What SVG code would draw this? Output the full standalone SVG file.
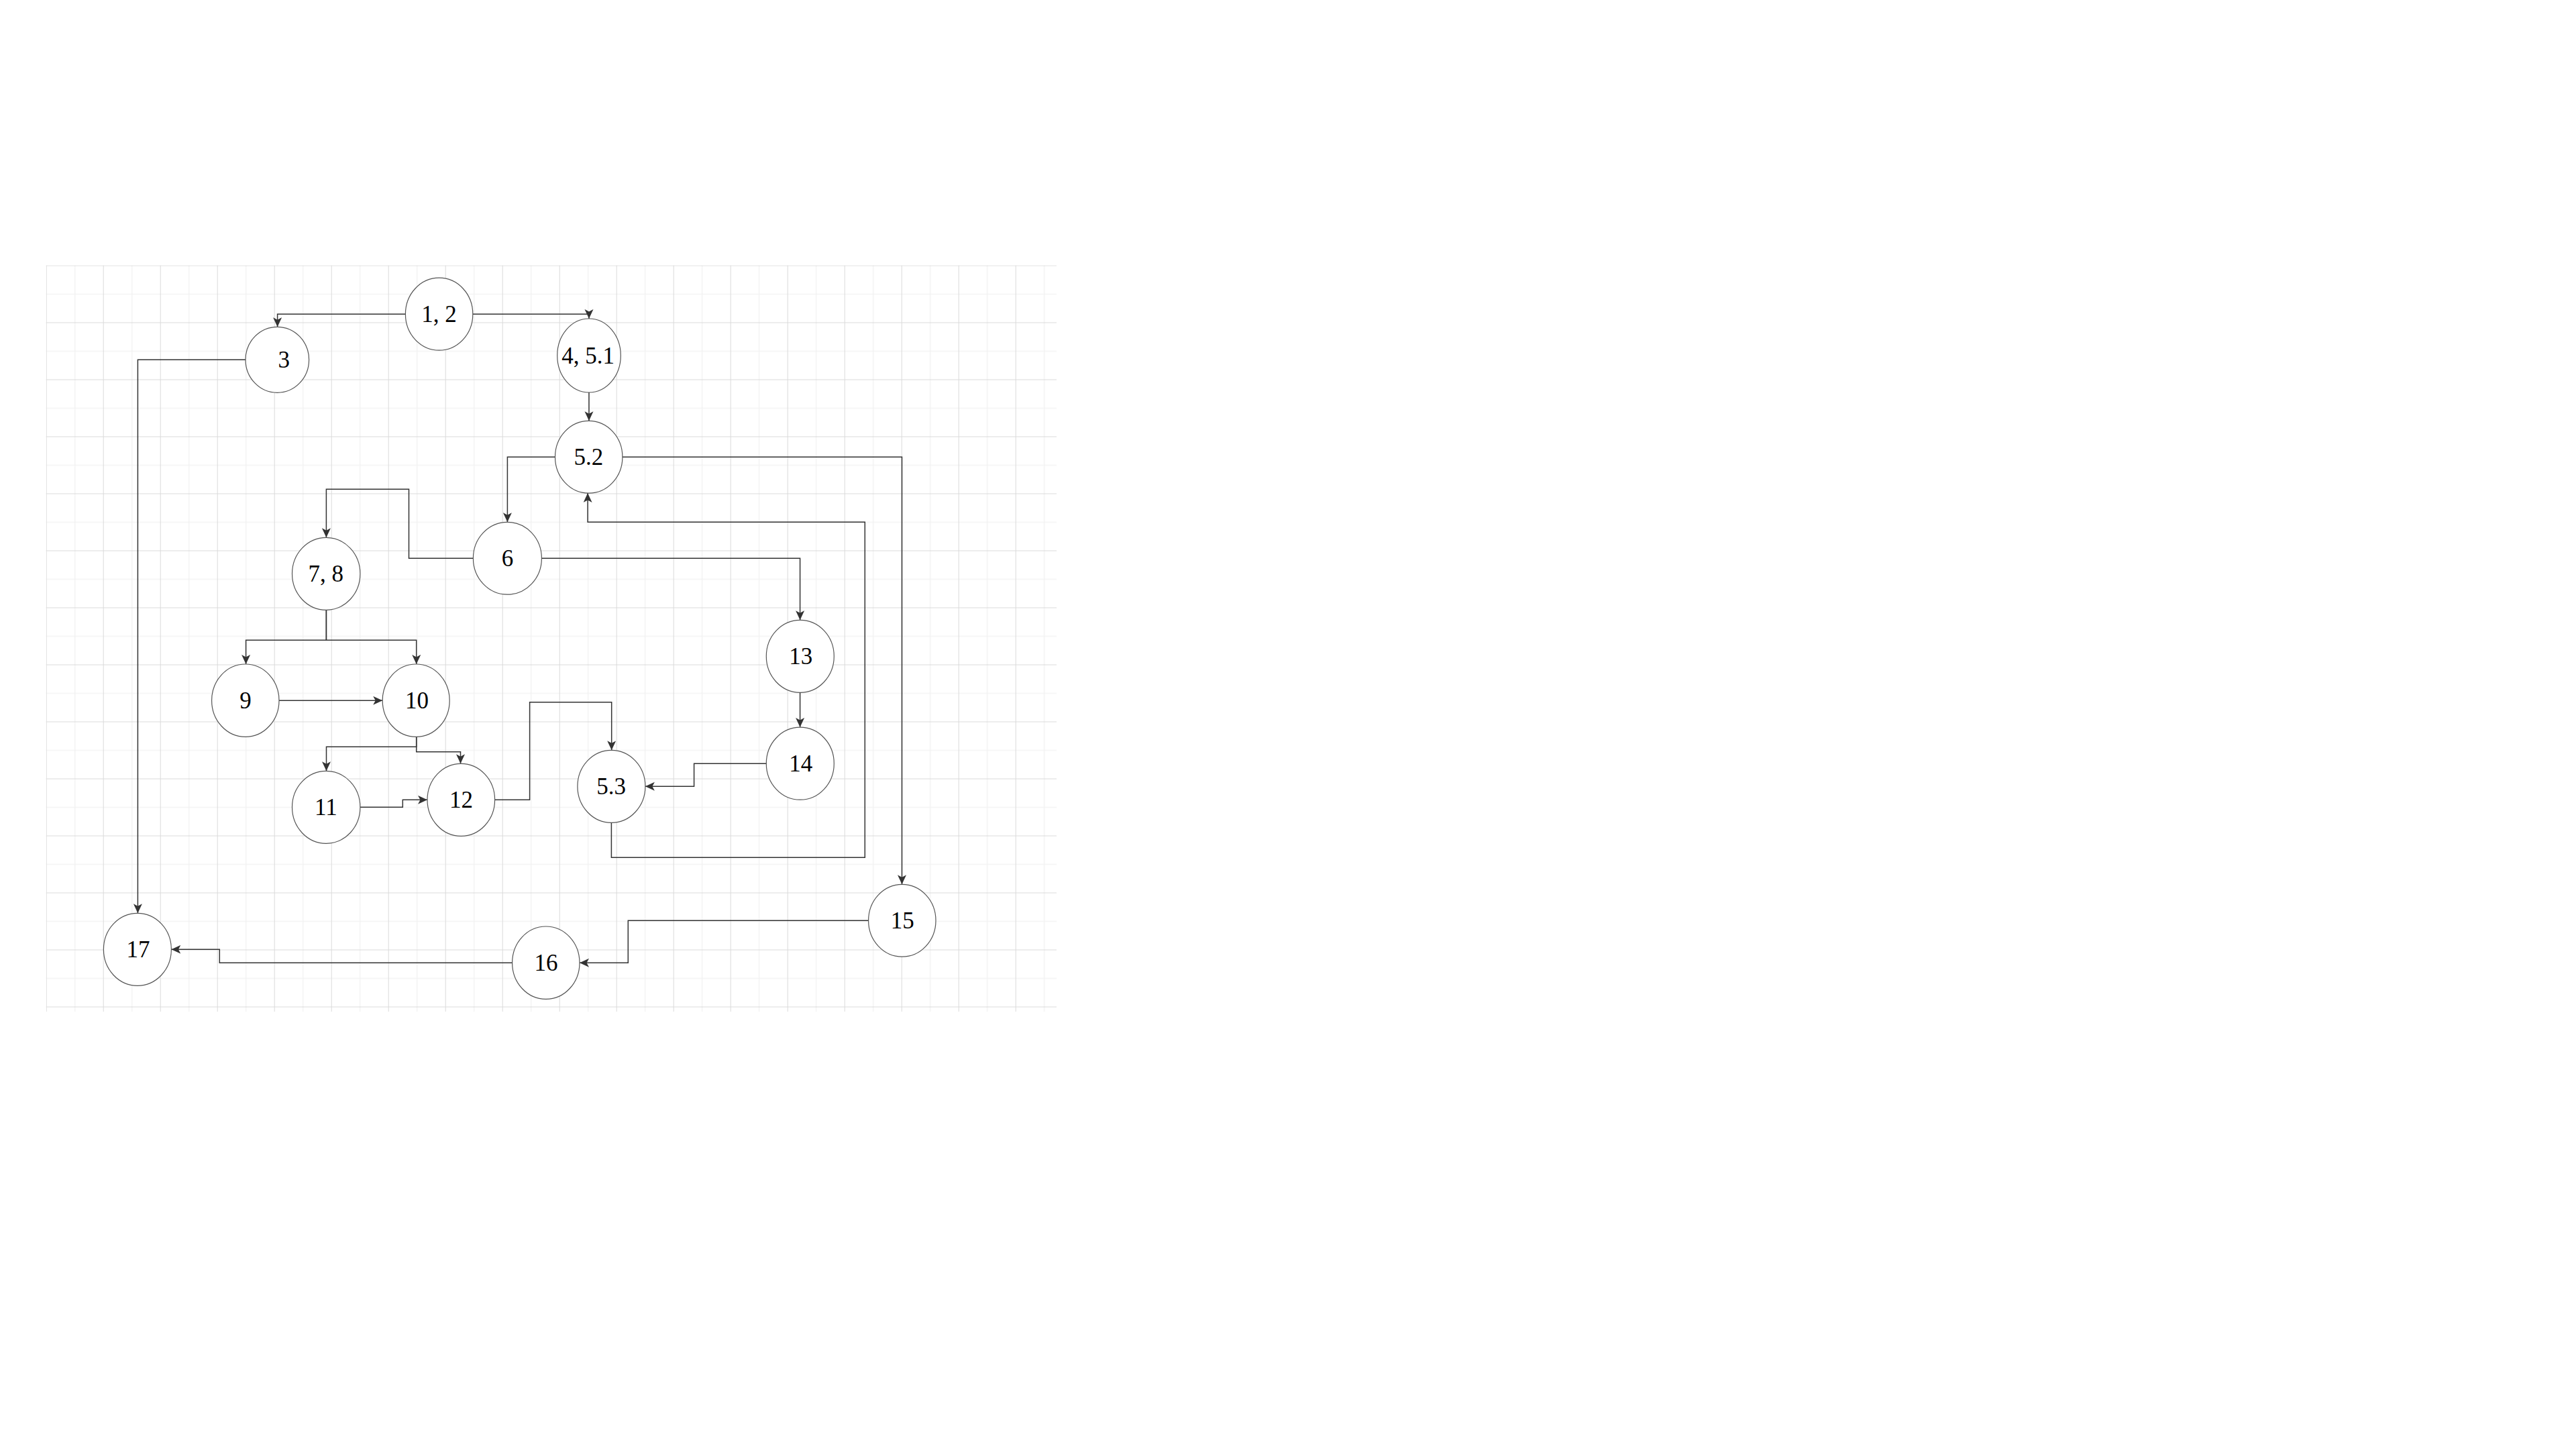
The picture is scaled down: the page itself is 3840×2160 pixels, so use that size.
<svg xmlns="http://www.w3.org/2000/svg" width="3840" height="2160" viewBox="0 0 3840 2160">
  <defs>
    <style>
      .node ellipse { fill: #ffffff; stroke: #555555; stroke-width: 1.2; }
      .node text { font-family: "Liberation Serif", "Times New Roman", serif; font-size: 35px; fill: #000000; text-anchor: middle; }
      .edge { fill: none; stroke: #333333; stroke-width: 1.5; marker-end: url(#arrow); }
      .edge-plain { fill: none; stroke: #333333; stroke-width: 1.5; }
    </style>
    <marker id="arrow" markerUnits="userSpaceOnUse" markerWidth="16" markerHeight="14" refX="14" refY="6.5" orient="auto">
      <path d="M0,0 L14,6.5 L0,13 L3.5,6.5 Z" fill="#333333"/>
    </marker>
    <pattern id="grid" patternUnits="userSpaceOnUse" x="68.7" y="395.5" width="85" height="85">
      <rect x="42.5" y="0" width="1" height="85" fill="#eeeeee"/>
      <rect x="0" y="42.5" width="85" height="1" fill="#eeeeee"/>
      <rect x="0" y="0" width="1" height="85" fill="#dadada"/>
      <rect x="0" y="0" width="85" height="1" fill="#dadada"/>
    </pattern>
  </defs>
  <rect x="0" y="0" width="3840" height="2160" fill="#ffffff"/>
  <rect x="68.7" y="395.5" width="1506.3" height="1112.5" fill="url(#grid)"/>

  <g id="connectors">
    <path class="edge" d="M604.4,468.3 H413.6 V487.3"/>
    <path class="edge" d="M704.9,468.3 H878 V475"/>
    <path class="edge" d="M366,536.3 H205.4 V1361.3"/>
    <path class="edge" d="M878,585 V627.3"/>
    <path class="edge" d="M827.5,681.3 H756.4 V778.3"/>
    <path class="edge" d="M927.9,681.3 H1344.5 V1318.3"/>
    <path class="edge" d="M705.4,832.3 H609.5 V729.3 H486.4 V801.3"/>
    <path class="edge" d="M807.4,832.3 H1192.6 V924.3"/>
    <path class="edge" d="M486.4,909.3 V954.3 H366.6 V990"/>
    <path class="edge" d="M486.4,909.3 V954.3 H620.7 V990"/>
    <path class="edge" d="M416,1044.3 H570.2"/>
    <path class="edge" d="M620.7,1098.3 V1113.3 H486.5 V1149.3"/>
    <path class="edge" d="M620.7,1098.3 V1120.7 H686.5 V1138.3"/>
    <path class="edge" d="M537,1203.3 H600.3 V1192.3 H637"/>
    <path class="edge" d="M737.6,1192.3 H789.6 V1046.7 H911.7 V1118.3"/>
    <path class="edge" d="M1192.6,1032.3 V1084"/>
    <path class="edge" d="M1142.3,1138.3 H1034.6 V1172.3 H961.9"/>
    <path class="edge" d="M911.4,1226.3 V1278.3 H1289.3 V778.3 H876.1 V735"/>
    <path class="edge" d="M1294.5,1372.3 H936.3 V1435.2 H864"/>
    <path class="edge" d="M763.6,1435.2 H327.3 V1415.3 H255.4"/>
  </g>

  <g id="node-1-2" class="node"><ellipse cx="654.6" cy="468.2" rx="50.2" ry="54"/><text x="654.6" y="479.7">1, 2</text></g>
  <g id="node-3" class="node"><ellipse cx="413.3" cy="536.3" rx="47.3" ry="49"/><text x="423.3" y="547.7">3</text></g>
  <g id="node-4-5-1" class="node"><ellipse cx="878" cy="530" rx="47.3" ry="55"/><text x="876.5" y="541.5">4, 5.1</text></g>
  <g id="node-5-2" class="node"><ellipse cx="877.7" cy="681.2" rx="50.2" ry="53.9"/><text x="877.4" y="692.7">5.2</text></g>
  <g id="node-6" class="node"><ellipse cx="756.4" cy="832.2" rx="51" ry="53.9"/><text x="756.4" y="843.7">6</text></g>
  <g id="node-7-8" class="node"><ellipse cx="486.2" cy="855.3" rx="50.7" ry="54"/><text x="485.8" y="866.8">7, 8</text></g>
  <g id="node-9" class="node"><ellipse cx="365.8" cy="1044.2" rx="50.2" ry="54.2"/><text x="366" y="1055.7">9</text></g>
  <g id="node-10" class="node"><ellipse cx="620.2" cy="1044.2" rx="50" ry="54.2"/><text x="621.4" y="1055.7">10</text></g>
  <g id="node-11" class="node"><ellipse cx="486.2" cy="1203.3" rx="50.7" ry="54"/><text x="485.8" y="1214.8">11</text></g>
  <g id="node-12" class="node"><ellipse cx="687.3" cy="1192.3" rx="50.3" ry="54"/><text x="687.5" y="1203.8">12</text></g>
  <g id="node-5-3" class="node"><ellipse cx="911.4" cy="1172.3" rx="50.5" ry="54"/><text x="911.2" y="1183.8">5.3</text></g>
  <g id="node-13" class="node"><ellipse cx="1192.8" cy="978.3" rx="50.5" ry="54"/><text x="1193.8" y="989.8">13</text></g>
  <g id="node-14" class="node"><ellipse cx="1192.8" cy="1138.2" rx="50.5" ry="54"/><text x="1193.8" y="1149.7">14</text></g>
  <g id="node-15" class="node"><ellipse cx="1344.8" cy="1372.2" rx="50.2" ry="53.9"/><text x="1345.2" y="1383.7">15</text></g>
  <g id="node-16" class="node"><ellipse cx="813.8" cy="1435.2" rx="50.2" ry="54.2"/><text x="814" y="1446.7">16</text></g>
  <g id="node-17" class="node"><ellipse cx="204.9" cy="1415.3" rx="50.5" ry="54"/><text x="206" y="1426.8">17</text></g>
</svg>
